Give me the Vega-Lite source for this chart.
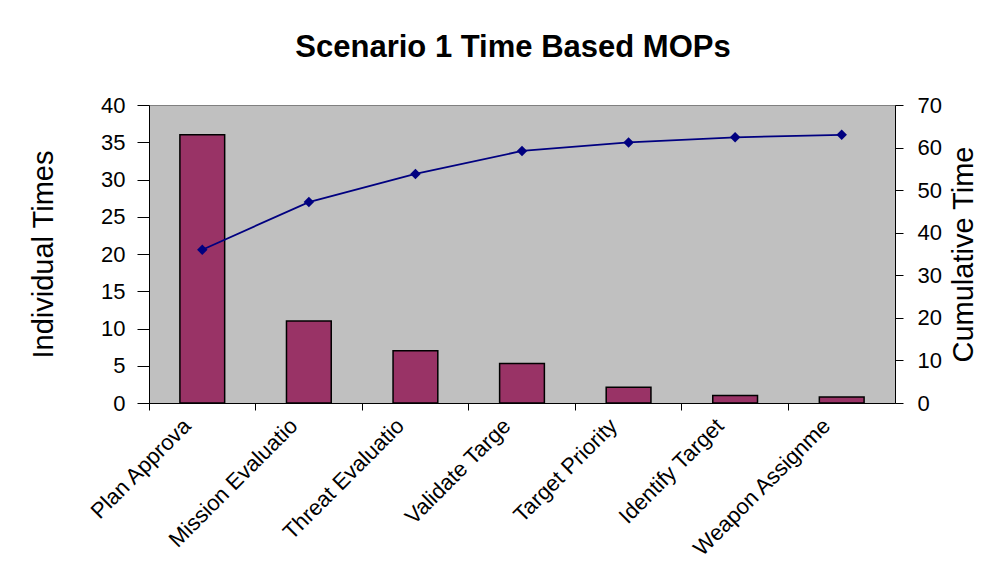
{
  "$schema": "https://vega.github.io/schema/vega-lite/v6.json",
  "autosize": {"type": "none"},
  "width": 746,
  "height": 298,
  "padding": {"left": 149, "top": 105, "right": 109, "bottom": 177},
  "background": "white",
  "title": {
    "text": "Scenario 1 Time Based MOPs",
    "font": "Liberation Sans",
    "fontSize": 31,
    "fontWeight": "bold",
    "color": "black",
    "anchor": "middle",
    "dx": -9,
    "offset": 30
  },
  "data": {
    "values": [
      {"step": "Plan Approva", "time": 36, "cumulative": 36},
      {"step": "Mission Evaluatio", "time": 11, "cumulative": 47.2},
      {"step": "Threat Evaluatio", "time": 7, "cumulative": 53.8},
      {"step": "Validate Targe", "time": 5.3, "cumulative": 59.2},
      {"step": "Target Priority", "time": 2.1, "cumulative": 61.2},
      {"step": "Identify Target", "time": 1, "cumulative": 62.4},
      {"step": "Weapon Assignme", "time": 0.8, "cumulative": 63.0}
    ]
  },
  "encoding": {
    "x": {
      "field": "step",
      "type": "nominal",
      "sort": null,
      "scale": {"paddingInner": 0, "paddingOuter": 0},
      "axis": {
        "title": null,
        "bandPosition": 0,
        "labelAngle": -45,
        "labelAlign": "right",
        "labelBaseline": "middle",
        "labelOffset": -15,
        "labelPadding": 12,
        "labelFont": "Liberation Sans",
        "labelFontSize": 22,
        "labelColor": "black",
        "tickSize": 7,
        "tickColor": "black",
        "domainColor": "black",
        "labelLimit": 400
      }
    }
  },
  "layer": [
    {
      "mark": {"type": "bar", "width": {"band": 0.42}, "color": "#993366", "stroke": "black", "strokeWidth": 1.5},
      "encoding": {
        "y": {
          "field": "time",
          "type": "quantitative",
          "scale": {"domain": [0, 40]},
          "axis": {
            "title": "Individual Times",
            "values": [0, 5, 10, 15, 20, 25, 30, 35, 40],
            "grid": false,
            "tickSize": 12,
            "labelPadding": 12,
            "labelFont": "Liberation Sans",
            "labelFontSize": 22,
            "labelColor": "black",
            "tickColor": "black",
            "domainColor": "black",
            "titleFont": "Liberation Sans",
            "titleFontSize": 29,
            "titleFontWeight": "normal",
            "titleColor": "black",
            "titlePadding": 42
          }
        }
      }
    },
    {
      "mark": {
        "type": "line",
        "color": "#000080",
        "strokeWidth": 1.8,
        "point": {"shape": "diamond", "size": 110, "filled": true, "color": "#000080"}
      },
      "encoding": {
        "y": {
          "field": "cumulative",
          "type": "quantitative",
          "scale": {"domain": [0, 70]},
          "axis": {
            "orient": "right",
            "title": "Cumulative Time",
            "values": [0, 10, 20, 30, 40, 50, 60, 70],
            "grid": false,
            "tickSize": 8,
            "labelPadding": 14,
            "labelFont": "Liberation Sans",
            "labelFontSize": 22,
            "labelColor": "black",
            "tickColor": "black",
            "domainColor": "black",
            "titleAngle": -90,
            "titleBaseline": "top",
            "titleFont": "Liberation Sans",
            "titleFontSize": 29,
            "titleFontWeight": "normal",
            "titleColor": "black",
            "titlePadding": 8
          }
        }
      }
    }
  ],
  "resolve": {"scale": {"y": "independent"}},
  "config": {
    "view": {"fill": "#C0C0C0", "stroke": "#808080", "strokeWidth": 1}
  }
}
